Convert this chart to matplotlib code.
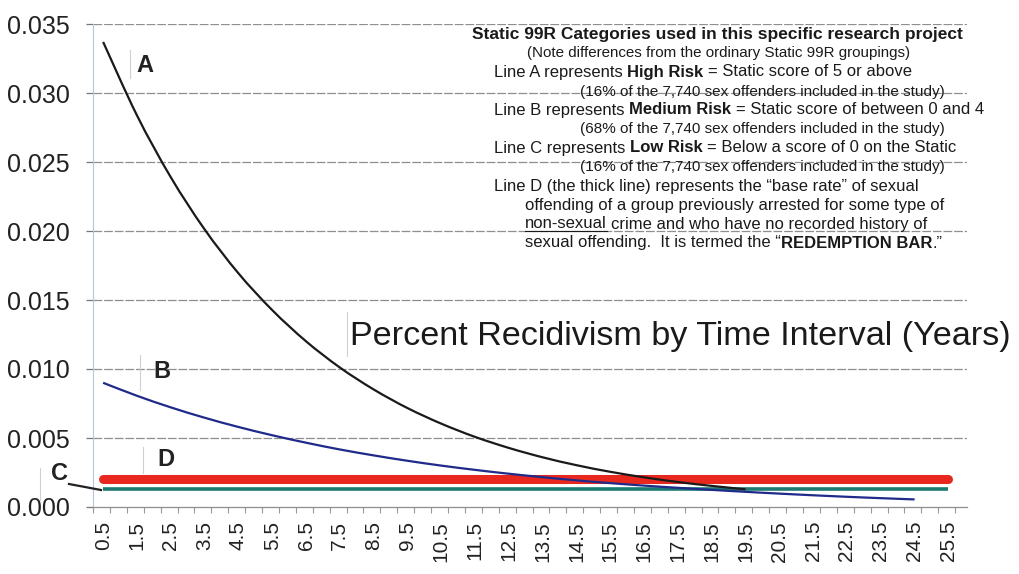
import numpy as np
import matplotlib
matplotlib.use("Agg")
import matplotlib.pyplot as plt
from matplotlib.lines import Line2D
from matplotlib.path import Path
from matplotlib.patches import PathPatch

# ---------------- data ----------------
years = [0.5, 1.5, 2.5, 3.5, 4.5, 5.5, 6.5, 7.5, 8.5, 9.5, 10.5, 11.5, 12.5,
         13.5, 14.5, 15.5, 16.5, 17.5, 18.5, 19.5, 20.5, 21.5, 22.5, 23.5, 24.5, 25.5]
tick_labels = ["0.5", "1.5", "2.5", "3.5", "4.5", "5.5", "6.5", "7.5", "8.5", "9.5",
               "10.5", "11.5", "12.5", "13.5", "14.5", "15.5", "16.5", "17.5", "18.5",
               "19.5", "20.5", "21.5", "22.5", "23.5", "24.5", "25.5"]
line_a = [0.03370, 0.02838, 0.02390, 0.02012, 0.01694, 0.01427, 0.01201, 0.01011,
          0.00852, 0.00717, 0.00604, 0.00508, 0.00428, 0.00360, 0.00303, 0.00255,
          0.00215, 0.00181, 0.00153, 0.00128, None, None, None, None, None, None]
line_b = [0.00900, 0.00806, 0.00722, 0.00647, 0.00580, 0.00520, 0.00466, 0.00417,
          0.00374, 0.00335, 0.00300, 0.00269, 0.00241, 0.00216, 0.00193, 0.00173,
          0.00155, 0.00139, 0.00124, 0.00110, 0.00097, 0.00085, 0.00074, 0.00064,
          0.00055, None]
line_c = [0.0013] * 26
line_d = [0.0020] * 26

def arr(v):
    return np.array([np.nan if x is None else x for x in v], dtype=float)

def smooth_curve(ax, xs, ys, **kw):
    """Excel-style smoothed line (Catmull-Rom drawn as Bezier curves) through the points."""
    pts = [(x, y) for x, y in zip(xs, ys) if y is not None]
    P = np.array(pts, dtype=float)
    n = len(P)
    verts = [tuple(P[0])]
    codes = [Path.MOVETO]
    for i in range(n - 1):
        p0 = P[i - 1] if i > 0 else P[i]
        p1 = P[i]
        p2 = P[i + 1]
        p3 = P[i + 2] if i + 2 < n else P[i + 1]
        c1 = p1 + (p2 - p0) / 6.0
        c2 = p2 - (p3 - p1) / 6.0
        verts += [tuple(c1), tuple(c2), tuple(p2)]
        codes += [Path.CURVE4] * 3
    patch = PathPatch(Path(verts, codes), fill=False, transform=ax.transData, **kw)
    ax.add_patch(patch)
    return patch

W, H = 1019, 574
plt.rcParams['font.family'] = ['Liberation Sans', 'DejaVu Sans']
fig = plt.figure(figsize=(W / 100, H / 100), dpi=100)
ax = fig.add_axes([93 / W, (H - 507) / H, (967 - 93) / W, (507 - 24) / H])

ax.set_xlim(0.2, 26.05)
ax.set_ylim(0, 0.035)

# lines
ax.plot(years, arr(line_d), color='#e8281e', lw=6.5, solid_capstyle='round', zorder=2)
ax.plot(years, arr(line_c), color='#1b7a72', lw=2.6, solid_capstyle='butt', zorder=3)
smooth_curve(ax, years, line_b, edgecolor='#1f2a8a', lw=1.6, zorder=4, capstyle='butt')
smooth_curve(ax, years, line_a, edgecolor='#1a1a1a', lw=1.6, zorder=5, capstyle='butt')

# grid & axes
yt = [0.0, 0.005, 0.010, 0.015, 0.020, 0.025, 0.030, 0.035]
ax.set_yticks(yt)
ax.set_yticklabels([f"{v:.3f}" for v in yt], fontsize=18, color='#222222')
for v in yt[1:]:
    ax.axhline(v, color='#8f8f8f', lw=0.9, ls=(0, (7, 1.5)), zorder=1)
ax.set_xticks(years)
ax.set_xticklabels(tick_labels, rotation=90, fontsize=15, color='#222222')
ax.set_xticks(np.arange(0.2, 26.1, 0.5), minor=True)
ax.tick_params(axis='x', which='major', length=0, pad=10)
ax.tick_params(axis='x', which='minor', length=4, color='#999999', width=0.8)
ax.tick_params(axis='y', which='major', length=5, color='#777777', width=0.9, pad=12)
for s in ['top', 'right']:
    ax.spines[s].set_visible(False)
ax.spines['left'].set_color('#b8c4d8')
ax.spines['left'].set_linewidth(0.8)
ax.spines['bottom'].set_color('#8f8f8f')
ax.spines['bottom'].set_linewidth(0.9)

# ---------------- annotations ----------------
def fx(px):
    return px / W

def fy(py):
    return 1 - py / H

labfont = dict(fontsize=17, fontweight='bold', color='#222222', ha='center', va='center')
fig.text(fx(145), fy(66), "A", **labfont)
fig.text(fx(162), fy(371), "B", **labfont)
fig.text(fx(60), fy(473), "C", **labfont)
fig.text(fx(166), fy(460), "D", **labfont)
fig.add_artist(Line2D([fx(69), fx(101)], [fy(484), fy(490)], color='#222222', lw=1.6))

# faint scan edges of text boxes
for (x0, y0, y1) in [(130, 50, 78), (140, 355, 390), (143, 447, 473), (40, 468, 500), (347, 312, 356)]:
    fig.add_artist(Line2D([fx(x0), fx(x0)], [fy(y0), fy(y1)], color='#d0d0d0', lw=0.8))

fig.text(fx(350), fy(336), "Percent Recidivism by Time Interval (Years)",
         fontsize=24.6, color='#1a1a1a', ha='left', va='center')

renderer = fig.canvas.get_renderer()

def space_width(size, bold=False):
    w = 'bold' if bold else 'normal'
    t1 = fig.text(0, 0, "a a", fontsize=size, fontweight=w)
    t2 = fig.text(0, 0, "aa", fontsize=size, fontweight=w)
    spw = t1.get_window_extent(renderer).width - t2.get_window_extent(renderer).width
    t1.remove(); t2.remove()
    return spw

def draw_pieces(x_px, y_px, pieces, size):
    x = x_px
    for i, (s, bold, underline, gap) in enumerate(pieces):
        t = fig.text(fx(x), fy(y_px), s, fontsize=size,
                     fontweight='bold' if bold else 'normal',
                     color='#1a1a1a', ha='left', va='center')
        bb = t.get_window_extent(renderer)
        if underline:
            uy = y_px + size * 0.62
            fig.add_artist(Line2D([fx(bb.x0), fx(bb.x1)], [fy(uy), fy(uy)],
                                  color='#1a1a1a', lw=0.8))
        x += bb.width
        if gap:
            x += space_width(size)

main = 12
sub = 11
draw_pieces(472, 35, [("Static 99R Categories used in this specific research project", True, False, False)], 12.5)
draw_pieces(527, 53, [("(Note differences from the ordinary Static 99R groupings)", False, False, False)], 10.9)
draw_pieces(494, 72, [("Line A represents", False, False, True), ("High Risk", True, False, True),
                      ("= Static score of 5 or above", False, False, False)], main)
draw_pieces(580, 92, [("(16% of the 7,740 sex offenders included in the study)", False, False, False)], sub)
draw_pieces(494, 110, [("Line B represents", False, False, True), ("Medium Risk", True, False, True),
                       ("= Static score of between 0 and 4", False, False, False)], main)
draw_pieces(580, 129, [("(68% of the 7,740 sex offenders included in the study)", False, False, False)], sub)
draw_pieces(494, 148, [("Line C represents", False, False, True), ("Low Risk", True, False, True),
                       ("= Below a score of 0 on the Static", False, False, False)], main)
draw_pieces(580, 167, [("(16% of the 7,740 sex offenders included in the study)", False, False, False)], sub)
draw_pieces(494, 186, [("Line D (the thick line) represents the \u201cbase rate\u201d of sexual", False, False, False)], main)
draw_pieces(525, 205, [("offending of a group previously arrested for some type of", False, False, False)], main)
draw_pieces(525, 224, [("non-sexual", False, True, True),
                       ("crime and who have no recorded history of", False, False, False)], main)
draw_pieces(525, 243, [("sexual offending.  It is termed the \u201c", False, False, False),
                       ("REDEMPTION BAR", True, False, False),
                       (".\u201d", False, False, False)], main)

fig.savefig("out.png", dpi=100)
